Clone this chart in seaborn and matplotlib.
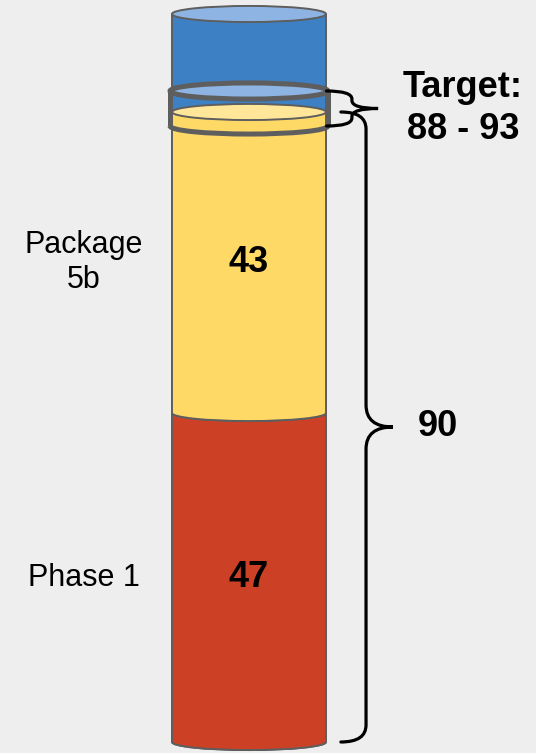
import matplotlib
matplotlib.use("Agg")
import numpy as np
import pandas as pd
import matplotlib.pyplot as plt
import seaborn as sns
from matplotlib.patches import Ellipse, Arc, Polygon, PathPatch
from matplotlib.path import Path

# Stacked contributions (bottom to top)
segments = ["Phase 1", "Package 5b"]
segment_labels = ["Phase 1", "Package\n5b"]
segment_values = [47, 43]
segment_colors = ["#CC4125", "#FFD966"]
segment_top_colors = ["#E07060", "#FFE699"]

# Full cylinder capacity drawn behind the stack
capacity_total = 104
capacity_color = "#3D80C4"
capacity_top_color = "#8DB4E2"

# Target band
target_range = [88, 93]
target_label = "Target:\n88 - 93"

sns.set_theme(style="white")
plt.rcParams["font.family"] = ["Liberation Sans", "DejaVu Sans"]
plt.rcParams["text.color"] = "black"

BG = "#EEEEEE"
OUTLINE = "#5E5E5E"
fig = plt.figure(figsize=(5.36, 7.53), dpi=100, facecolor=BG)
ax = fig.add_axes([0, 0, 1, 1])
ax.set_facecolor(BG)

BAR_W = 0.6      # cylinder width (category units)
CAP_H = 2.3      # ellipse height (value units)
XC = 0.0         # cylinder centre


def cylinder(bottom, height, color, top_color, z):
    top = bottom + height
    df = pd.DataFrame({"stack": ["total"], "value": [height]})
    sns.barplot(data=df, x="stack", y="value", bottom=bottom, color=color,
                saturation=1, width=BAR_W, linewidth=0, errorbar=None,
                zorder=z, ax=ax)
    # rounded front of the base
    t = np.linspace(np.pi, 2 * np.pi, 80)
    pts = np.column_stack([XC + BAR_W / 2 * np.cos(t),
                           bottom + CAP_H / 2 * np.sin(t)])
    ax.add_patch(Polygon(pts, closed=True, fc=color, ec="none", zorder=z))
    ax.add_patch(Arc((XC, bottom), BAR_W, CAP_H, theta1=180, theta2=360,
                     color=OUTLINE, lw=1.4, zorder=z + 0.1))
    # sides
    for sx in (XC - BAR_W / 2, XC + BAR_W / 2):
        ax.plot([sx, sx], [bottom, top], color=OUTLINE, lw=1.4,
                solid_capstyle="butt", zorder=z + 0.1)
    # top face
    ax.add_patch(Ellipse((XC, top), BAR_W, CAP_H, fc=top_color, ec=OUTLINE,
                         lw=1.4, zorder=z + 0.2))


cylinder(0, capacity_total, capacity_color, capacity_top_color, 1)
bottoms = np.concatenate([[0], np.cumsum(segment_values)[:-1]])
for i, (b, v) in enumerate(zip(bottoms, segment_values)):
    cylinder(b, v, segment_colors[i], segment_top_colors[i], 2 + i)

# value labels inside, segment names to the left
for b, v, lab in zip(bottoms, segment_values, segment_labels):
    mid = b + v / 2
    ax.text(XC, mid, f"{v}", ha="center", va="center", fontsize=26,
            fontweight="bold", color="black", zorder=10)
    ax.text(-0.643, mid, lab, ha="center", va="center", fontsize=22,
            color="black", linespacing=1.2, zorder=10)

# target ring
RING_W = 0.615
lo, hi = target_range
ax.add_patch(Ellipse((XC, hi), RING_W, CAP_H, fc=capacity_top_color,
                     ec=OUTLINE, lw=3.6, zorder=6))
ax.add_patch(Arc((XC, lo), RING_W, CAP_H, theta1=180, theta2=360,
                 color=OUTLINE, lw=3.6, zorder=6))
for sx in (XC - RING_W / 2, XC + RING_W / 2):
    ax.plot([sx, sx], [lo, hi], color=OUTLINE, lw=3.6,
            solid_capstyle="butt", zorder=6)


def brace(x0, xv, xt, v_lo, v_hi, r_end, r_mid, lw=2.3):
    vm = (v_lo + v_hi) / 2
    verts = [(x0, v_hi), (xv, v_hi), (xv, v_hi - r_end),
             (xv, vm + r_mid), (xv, vm), (xt, vm),
             (xv, vm), (xv, vm - r_mid),
             (xv, v_lo + r_end), (xv, v_lo), (x0, v_lo)]
    codes = [Path.MOVETO, Path.CURVE3, Path.CURVE3, Path.LINETO,
             Path.CURVE3, Path.CURVE3, Path.CURVE3, Path.CURVE3,
             Path.LINETO, Path.CURVE3, Path.CURVE3]
    ax.add_patch(PathPatch(Path(verts, codes), fc="none", ec="black",
                           lw=lw, capstyle="round", zorder=8))
    return vm


total = sum(segment_values)
mid_total = brace(0.358, 0.456, 0.561, 0, total, 17 / 7, 22 / 7)
ax.text(0.736, mid_total, f"{total}", ha="center", va="center",
        fontsize=26, fontweight="bold", color="black", zorder=10)

mid_target = brace(0.302, 0.401, 0.503, lo, hi, 8 / 7, 8 / 7)
ax.text(0.834, mid_target, target_label, ha="center", va="center",
        fontsize=26, fontweight="bold", color="black", linespacing=1.25,
        zorder=10)

ax.set_xlim(-0.9701, 1.1182)
ax.set_ylim(-11 / 7, -11 / 7 + 753 / 7)
ax.axis("off")

fig.savefig("out.png", dpi=100, facecolor=BG)
